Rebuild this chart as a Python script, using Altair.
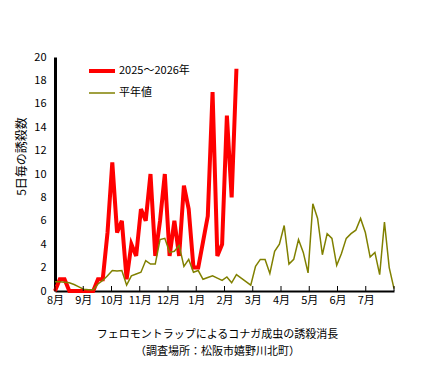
import altair as alt
import pandas as pd

# 5-day periods starting Aug 1 (6 per month, 72 per year)
red_name = "2025～2026年"
normal_name = "平年値"
red_values = [0, 1, 1, 0, 0, 0, 0, 0, 0, 1, 1, 5, 11, 5, 6, 1, 4, 3, 7, 6,
              10, 3, 6, 10, 3, 6, 3, 9, 7, 2, 2, 4.2, 6.4, 17, 3, 4, 15, 8, 19]
normal_values = [0.8, 0.8, 0.75, 0.7, 0.55, 0.35, 0.15, 0.1, 0.1, 0.6,
                 0.9, 1.3, 1.75, 1.7, 1.75, 0.5, 1.3, 1.45, 1.6, 2.6,
                 2.3, 2.3, 4.4, 4.5, 3.3, 3.4, 3.9, 2.1, 2.7, 1.6,
                 1.75, 1.0, 1.15, 1.3, 1.1, 0.9, 1.2, 0.7, 1.4, 1.1,
                 0.8, 0.5, 2.1, 2.7, 2.7, 1.5, 3.4, 4.0, 5.6, 2.3,
                 2.7, 4.4, 3.3, 1.55, 7.45, 6.2, 3.1, 4.9, 4.5, 2.2,
                 3.2, 4.5, 4.9, 5.2, 6.2, 5.0, 2.9, 3.3, 1.4, 5.9,
                 2.0, 0.2]
month_labels = ["8月", "9月", "10月", "11月", "12月", "1月", "2月", "3月",
                "4月", "5月", "6月", "7月"]
month_ticks = [6 * k for k in range(12)]
tick_marks = month_ticks + [72]
y_ticks = list(range(0, 21, 2))

rows = [{"i": i, "v": v, "s": red_name} for i, v in enumerate(red_values)]
rows += [{"i": i, "v": v, "s": normal_name} for i, v in enumerate(normal_values)]
df = pd.DataFrame(rows)
ticks_df = pd.DataFrame({"t": tick_marks})

FONT = "Noto Sans CJK JP"
label_expr = "[" + ",".join("'%s'" % m for m in month_labels) + "][round(datum.value/6)]"

x_scale = alt.Scale(domain=[0, 72], nice=False, zero=False)
y_scale = alt.Scale(domain=[0, 20], nice=False)

x_axis = alt.Axis(values=month_ticks, labelExpr=label_expr, title=None,
                  grid=False, ticks=False, domainColor="black",
                  domainWidth=2, labelFont=FONT, labelFontSize=11,
                  labelColor="black", labelPadding=3, labelFlush=False,
                  labelOverlap=False, labelBound=False, labelSeparation=0)
x_enc = alt.X("xp:Q", scale=x_scale, axis=x_axis)
y_enc = alt.Y("v:Q", scale=y_scale,
              axis=alt.Axis(values=y_ticks, title="5日毎の誘殺数", grid=False,
                            ticks=False, domainColor="black", domainWidth=3,
                            labelFont=FONT, labelFontSize=11, labelColor="black",
                            labelPadding=9, labelOverlap=False,
                            titleFont=FONT, titleFontSize=12,
                            titleFontWeight="normal", titleColor="black",
                            titleX=-27, titleY=99))
color_enc = alt.Color("s:N", scale=alt.Scale(domain=[red_name, normal_name],
                                             range=["#ff0000", "#808000"]),
                      legend=alt.Legend(title=None, orient="none", legendX=32,
                                        legendY=-1, symbolType="stroke",
                                        symbolSize=676, labelFont=FONT,
                                        labelFontSize=11, labelColor="black",
                                        labelOffset=2, rowPadding=-6))
sw_enc = alt.StrokeWidth("s:N", scale=alt.Scale(domain=[red_name, normal_name],
                                                range=[4, 1.5]), legend=None)

base = alt.Chart(df).transform_calculate(xp="datum.i * 72 / 71")

red_line = base.transform_filter(alt.datum.s == red_name).mark_line().encode(
    x=x_enc, y=y_enc, color=color_enc, strokeWidth=sw_enc)
normal_line = base.transform_filter(alt.datum.s == normal_name).mark_line().encode(
    x=x_enc, y=y_enc, color=color_enc, strokeWidth=sw_enc)

tick_rules = alt.Chart(ticks_df).mark_rule(color="black", strokeWidth=1).encode(
    x=alt.X("t:Q", scale=x_scale, axis=x_axis), y=alt.value(234), y2=alt.value(229))

chart = alt.layer(red_line, normal_line, tick_rules).properties(
    width=339, height=234,
    autosize=alt.AutoSizeParams(type="none"),
    padding={"left": 47, "top": 49, "right": 31, "bottom": 74},
    title=alt.TitleParams(
        text=["フェロモントラップによるコナガ成虫の誘殺消長", "（調査場所：松阪市嬉野川北町）"],
        orient="bottom", font=FONT, fontSize=11, fontWeight="normal",
        color="black", offset=24, dx=-7, lineHeight=17),
).configure_view(stroke=None).configure_axis(labelOverlap=False)

chart.save("out.html", embed_options={"renderer": "svg", "actions": False})
